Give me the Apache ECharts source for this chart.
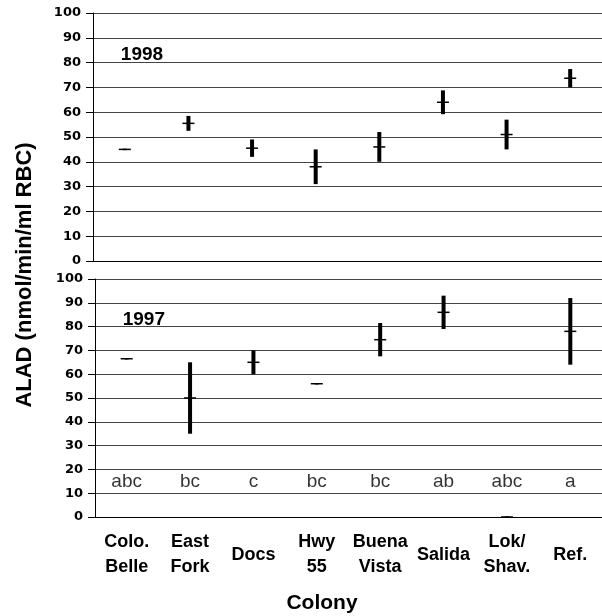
<!DOCTYPE html>
<html>
<head>
<meta charset="utf-8">
<script src="https://cdn.jsdelivr.net/npm/echarts@6/dist/echarts.min.js"></script>
<style>html,body{margin:0;padding:0;background:#fff}#c{width:602px;height:616px}</style>
</head>
<body>
<div id="c"></div>
<script>
const categories = ['Colo.\nBelle', 'East\nFork', 'Docs', 'Hwy\n55', 'Buena\nVista', 'Salida', 'Lok/\nShav.', 'Ref.'];
const mean1998 = [45, 55.5, 45.5, 38, 46, 64, 51, 73.7];
const err1998  = [0.3, 3, 3.5, 7, 6, 4.8, 6, 3.7];
const mean1997 = [66.5, 50, 65, 56, 74.5, 86, 0, 78];
const err1997  = [0.3, 15, 5, 0.3, 7, 7, 0.3, 14];
const letters  = ['abc', 'bc', 'c', 'bc', 'bc', 'ab', 'abc', 'a'];
const letterValue = 15;
const yearLabels = ['1998', '1997'];
const yearLabelValue = 83;
const yTicks = [0, 10, 20, 30, 40, 50, 60, 70, 80, 90, 100];

const chart = echarts.init(document.getElementById('c'), null, {renderer: 'canvas'});

function errData(means, errs) {
  return means.map((m, i) => [i, m, errs[i]]);
}
function renderErr(params, api) {
  const i = api.value(0), m = api.value(1), e = api.value(2);
  const c = api.coord([i, m]);
  const lo = api.coord([i, m - e]);
  const hi = api.coord([i, m + e]);
  return {
    type: 'group',
    children: [
      {type: 'rect', shape: {x: c[0] - 2, y: hi[1], width: 4, height: Math.max(lo[1] - hi[1], 1.5)}, style: {fill: '#000'}},
      {type: 'line', shape: {x1: c[0] - 6, y1: c[1], x2: c[0] + 6, y2: c[1]}, style: {stroke: '#000', lineWidth: 1.5}}
    ]
  };
}
function renderYear(params, api) {
  const p = api.coord([api.value(0), api.value(1)]);
  return {
    type: 'text', x: p[0] - 4, y: p[1],
    style: {text: yearLabels[params.seriesIndex === 2 ? 0 : 1], fill: '#000', font: 'bold 19px "Liberation Sans", Arial, sans-serif', align: 'left', verticalAlign: 'middle'}
  };
}

const yAxisBase = (gi) => ({
  type: 'value', gridIndex: gi, min: yTicks[0], max: yTicks[yTicks.length - 1], interval: 10,
  axisLine: {show: true, lineStyle: {color: '#000', width: 1}},
  axisTick: {show: true, length: 7, lineStyle: {color: '#000'}},
  axisLabel: {color: '#000', fontWeight: 'bold', fontSize: 13, fontFamily: 'DejaVu Sans', margin: 12},
  splitLine: {show: true, lineStyle: {color: '#444', width: 1}}
});

chart.setOption({
  animation: false,
  backgroundColor: '#fff',
  grid: [
    {left: 93, top: 13, width: 514, height: 248},
    {left: 95, top: 279, width: 514, height: 238}
  ],
  xAxis: [
    {type: 'category', gridIndex: 0, data: categories, boundaryGap: true,
     axisLine: {show: true, lineStyle: {color: '#000'}}, axisTick: {show: false}, axisLabel: {show: false}, splitLine: {show: false}},
    {type: 'category', gridIndex: 1, data: categories, boundaryGap: true,
     axisLine: {show: true, lineStyle: {color: '#000'}}, axisTick: {show: false},
     axisLabel: {show: true, interval: 0, color: '#000', fontWeight: 'bold', fontSize: 18, fontFamily: 'Liberation Sans', lineHeight: 25, margin: 38, verticalAlign: 'middle'},
     splitLine: {show: false}}
  ],
  yAxis: [yAxisBase(0), yAxisBase(1)],
  graphic: [
    {type: 'text', x: 25, y: 275, rotation: Math.PI / 2,
     style: {text: 'ALAD (nmol/min/ml RBC)', fill: '#000', font: 'bold 22px "Liberation Sans", Arial, sans-serif', align: 'center', verticalAlign: 'middle'}},
    {type: 'text', x: 322, y: 603,
     style: {text: 'Colony', fill: '#000', font: 'bold 21px "Liberation Sans", Arial, sans-serif', align: 'center', verticalAlign: 'middle'}}
  ],
  series: [
    {type: 'custom', xAxisIndex: 0, yAxisIndex: 0, data: errData(mean1998, err1998), renderItem: renderErr, clip: false, z: 5},
    {type: 'custom', xAxisIndex: 1, yAxisIndex: 1, data: errData(mean1997, err1997), renderItem: renderErr, clip: false, z: 5},
    {type: 'custom', xAxisIndex: 0, yAxisIndex: 0, data: [[0, yearLabelValue]], renderItem: renderYear, z: 6},
    {type: 'custom', xAxisIndex: 1, yAxisIndex: 1, data: [[0, yearLabelValue]], renderItem: renderYear, z: 6},
    {type: 'scatter', xAxisIndex: 1, yAxisIndex: 1, symbolSize: 0,
     data: letters.map((l, i) => [i, letterValue]),
     label: {show: true, position: 'inside', formatter: (p) => letters[p.dataIndex], color: '#000', fontSize: 19, fontFamily: 'Liberation Sans'}, z: 6}
  ]
});
</script>
</body>
</html>
